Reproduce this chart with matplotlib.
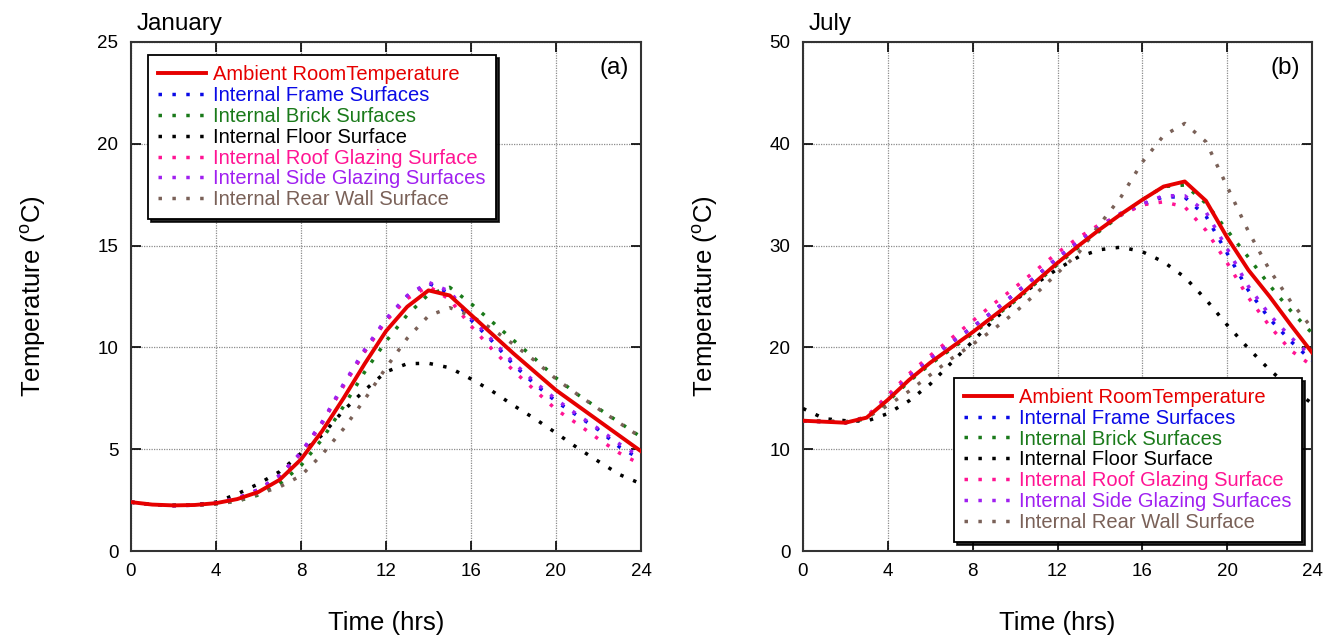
import matplotlib
matplotlib.use("Agg")
import matplotlib.pyplot as plt

plt.rcParams["font.family"] = ["Liberation Sans", "DejaVu Sans"]
plt.rcParams["mathtext.fontset"] = "custom"
plt.rcParams["mathtext.rm"] = "Liberation Sans"

HOURS = list(range(25))

# January (a)
JAN_AMBIENT = [2.40, 2.28, 2.24, 2.26, 2.35, 2.55, 2.90, 3.50, 4.50, 5.90, 7.50, 9.20, 10.80,
               12.00, 12.80, 12.55, 11.60, 10.65, 9.70, 8.80, 7.90, 7.15, 6.40, 5.65, 4.90]
JAN_FRAME = [2.40, 2.27, 2.23, 2.25, 2.35, 2.58, 3.00, 3.70, 4.80, 6.30, 8.15, 9.80, 11.35,
             12.50, 13.15, 12.65, 11.35, 10.30, 9.15, 8.20, 7.35, 6.65, 5.95, 5.10, 4.50]
JAN_BRICK = [2.40, 2.28, 2.24, 2.25, 2.32, 2.45, 2.75, 3.30, 4.20, 5.50, 7.10, 8.80, 10.30,
             11.60, 12.60, 12.95, 12.15, 11.25, 10.35, 9.45, 8.50, 7.70, 7.00, 6.30, 5.60]
JAN_FLOOR = [2.40, 2.28, 2.24, 2.27, 2.40, 2.80, 3.30, 3.90, 4.80, 5.70, 6.90, 7.90, 8.80,
             9.20, 9.22, 9.00, 8.45, 7.85, 7.15, 6.50, 5.80, 5.07, 4.40, 3.75, 3.30]
JAN_ROOF = [2.40, 2.27, 2.23, 2.25, 2.35, 2.58, 3.00, 3.70, 4.80, 6.30, 8.10, 9.80, 11.30,
            12.40, 13.00, 12.35, 11.05, 9.90, 8.85, 7.90, 6.95, 6.25, 5.50, 4.80, 4.25]
JAN_SIDE = [2.40, 2.27, 2.23, 2.25, 2.36, 2.60, 3.02, 3.72, 4.85, 6.35, 8.20, 9.90, 11.40,
            12.55, 13.20, 12.75, 11.45, 10.35, 9.25, 8.30, 7.45, 6.70, 6.00, 5.25, 4.60]
JAN_REAR = [2.40, 2.28, 2.24, 2.25, 2.30, 2.45, 2.80, 3.15, 3.70, 4.75, 6.00, 7.45, 9.00,
            10.45, 11.55, 11.95, 11.55, 10.90, 10.15, 9.35, 8.45, 7.70, 6.98, 6.28, 5.58]

# July (b)
JUL_AMBIENT = [12.8, 12.7, 12.6, 13.1, 14.85, 16.8, 18.5, 20.0, 21.5, 23.1, 24.7, 26.5, 28.3,
               30.0, 31.6, 33.1, 34.5, 35.8, 36.3, 34.4, 30.8, 27.6, 25.0, 22.2, 19.5]
JUL_FRAME = [12.8, 12.7, 12.6, 13.1, 15.0, 17.1, 18.9, 20.5, 22.0, 23.6, 25.3, 27.0, 28.8,
             30.4, 31.9, 33.1, 34.0, 34.8, 34.75, 32.9, 29.25, 25.6, 22.8, 20.6, 18.7]
JUL_BRICK = [12.8, 12.7, 12.6, 13.0, 14.7, 16.65, 18.35, 19.85, 21.35, 22.95, 24.55, 26.35, 28.15,
             29.85, 31.45, 33.0, 34.5, 35.8, 35.95, 34.15, 31.5, 28.85, 26.1, 23.6, 21.4]
JUL_FLOOR = [14.0, 13.0, 12.8, 12.75, 13.5, 14.75, 16.4, 18.5, 20.6, 22.7, 24.6, 26.3, 27.7,
             28.9, 29.6, 29.85, 29.4, 28.4, 26.9, 24.7, 22.2, 19.9, 17.8, 16.0, 14.5]
JUL_ROOF = [12.8, 12.7, 12.6, 13.2, 15.3, 17.4, 19.2, 20.9, 22.6, 24.3, 25.9, 27.6, 29.3,
            30.8, 32.1, 33.0, 34.0, 34.3, 33.8, 31.5, 28.3, 24.9, 22.1, 19.7, 18.2]
JUL_SIDE = [12.8, 12.7, 12.6, 13.1, 15.0, 17.1, 18.9, 20.5, 22.0, 23.6, 25.3, 27.0, 28.8,
            30.4, 31.9, 33.2, 34.1, 34.9, 34.9, 33.3, 29.7, 26.0, 23.2, 21.0, 19.1]
JUL_REAR = [12.8, 12.8, 12.7, 13.1, 14.3, 15.7, 17.3, 18.9, 20.3, 21.8, 23.45, 25.3, 27.3,
            29.3, 32.1, 34.8, 38.2, 40.8, 42.0, 40.2, 35.8, 31.4, 27.6, 24.5, 21.9]

LABELS = [
    "Ambient RoomTemperature",
    "Internal Frame Surfaces",
    "Internal Brick Surfaces",
    "Internal Floor Surface",
    "Internal Roof Glazing Surface",
    "Internal Side Glazing Surfaces",
    "Internal Rear Wall Surface",
]
COLORS = ["#e60000", "#0a0ae6", "#1a7a1a", "#000000", "#ff1493", "#a020f0", "#7a6158"]


def draw_panel(ax, series, ymax, ystep, month, tag, legend_loc, legend_anchor):
    for i, (vals, label, color) in enumerate(zip(series, LABELS, COLORS)):
        if i == 0:
            ax.plot(HOURS, vals, color=color, lw=2.8, label=label, zorder=4)
        else:
            ax.plot(HOURS, vals, color=color, lw=2.5, linestyle=(0, (1, 3.0)),
                    label=label, zorder=3)

    ax.set_xlim(0, 24)
    ax.set_ylim(0, ymax)
    ax.set_xticks(range(0, 25, 4))
    ax.set_yticks(range(0, ymax + 1, ystep))
    ax.tick_params(direction="in", length=7, width=1.2, top=True, right=True,
                   labelsize=13.5, pad=9)
    ax.grid(True, color="#8c8c8c", linestyle=(0, (1, 1)), linewidth=0.9)
    for sp in ax.spines.values():
        sp.set_linewidth(1.5)
        sp.set_color("#333333")

    ax.set_xlabel("Time (hrs)", fontsize=18.5, labelpad=22)
    ax.set_ylabel(r"Temperature ($\mathrm{^{o}}$C)", fontsize=18.5, labelpad=36)
    ax.text(0.012, 1 + 12 / 509, month, transform=ax.transAxes, fontsize=17.5,
            ha="left", va="baseline")
    ax.text(0.947, 0.949, tag, transform=ax.transAxes, fontsize=17.5,
            ha="center", va="center")

    leg = ax.legend(loc=legend_loc, bbox_to_anchor=legend_anchor, fontsize=14.5,
                    handlelength=2.4, handletextpad=0.35, labelspacing=0.09,
                    borderpad=0.5, borderaxespad=0, fancybox=False, framealpha=1,
                    edgecolor="black", labelcolor="linecolor",
                    shadow={"color": "black", "alpha": 0.85})
    leg.get_frame().set_linewidth(1.3)
    leg.set_zorder(10)


def main() -> None:
    fig = plt.figure(figsize=(13.36, 6.4), dpi=100)
    ax1 = fig.add_axes([131 / 1336, 1 - 551 / 640, 510 / 1336, 509 / 640])
    ax2 = fig.add_axes([803 / 1336, 1 - 551 / 640, 509 / 1336, 509 / 640])

    jan = [JAN_AMBIENT, JAN_FRAME, JAN_BRICK, JAN_FLOOR, JAN_ROOF, JAN_SIDE, JAN_REAR]
    jul = [JUL_AMBIENT, JUL_FRAME, JUL_BRICK, JUL_FLOOR, JUL_ROOF, JUL_SIDE, JUL_REAR]

    draw_panel(ax1, jan, 25, 5, "January", "(a)", "upper left", (0.033, 0.974))
    draw_panel(ax2, jul, 50, 10, "July", "(b)", "lower right", (0.98, 0.018))

    fig.savefig("out.png", dpi=100)
    plt.close(fig)


if __name__ == "__main__":
    main()
